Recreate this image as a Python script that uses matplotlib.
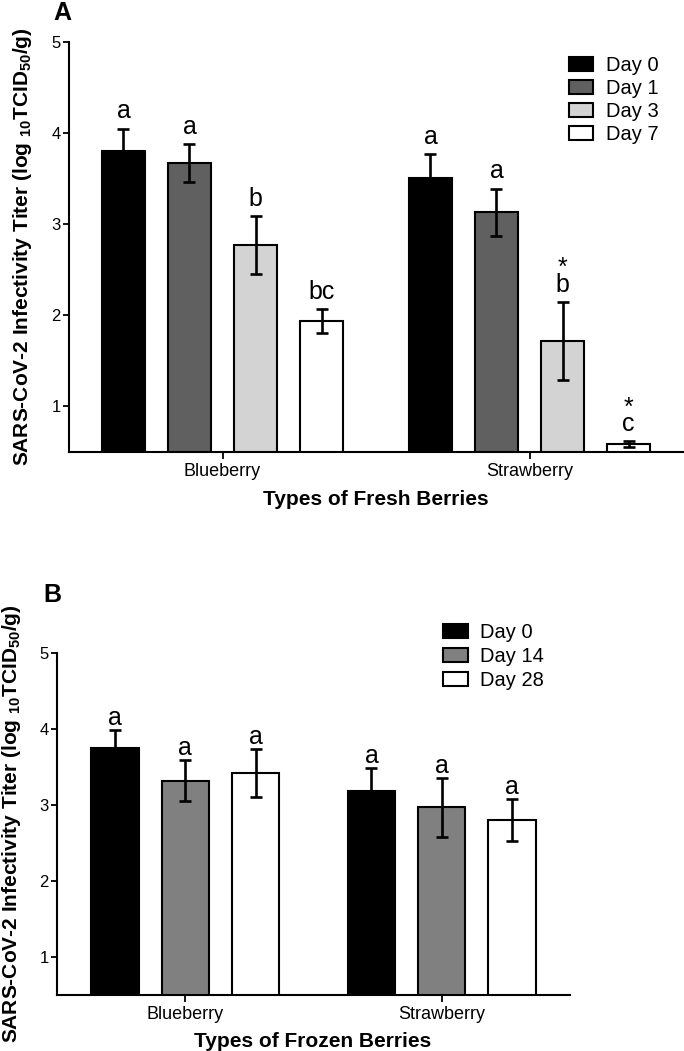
import matplotlib
matplotlib.use("Agg")
import matplotlib.pyplot as plt
import numpy as np
from matplotlib.patches import Patch

plt.rcParams['font.family'] = ['Liberation Sans', 'DejaVu Sans']
plt.rcParams['mathtext.fontset'] = 'custom'
plt.rcParams['mathtext.rm'] = 'Liberation Sans:bold'
plt.rcParams['mathtext.default'] = 'rm'

# ---------------- data ----------------
berries = ["Blueberry", "Strawberry"]

fresh_days = ["Day 0", "Day 1", "Day 3", "Day 7"]
fresh_mean = {"Blueberry": [3.80, 3.67, 2.77, 1.94],
              "Strawberry": [3.51, 3.13, 1.72, 0.59]}
fresh_err = {"Blueberry": [0.25, 0.21, 0.32, 0.13],
             "Strawberry": [0.26, 0.26, 0.43, 0.03]}
fresh_letters = {"Blueberry": ["a", "a", "b", "bc"],
                 "Strawberry": ["a", "a", "b", "c"]}
fresh_stars = {"Blueberry": ["", "", "", ""],
               "Strawberry": ["", "", "*", "*"]}
fresh_colors = ["#000000", "#606060", "#d3d3d3", "#ffffff"]

frozen_days = ["Day 0", "Day 14", "Day 28"]
frozen_mean = {"Blueberry": [3.75, 3.32, 3.42],
               "Strawberry": [3.19, 2.97, 2.80]}
frozen_err = {"Blueberry": [0.24, 0.27, 0.32],
              "Strawberry": [0.30, 0.39, 0.28]}
frozen_letters = {"Blueberry": ["a", "a", "a"],
                  "Strawberry": ["a", "a", "a"]}
frozen_colors = ["#000000", "#808080", "#ffffff"]

yticks = [1, 2, 3, 4, 5]

W, H = 684, 1051
fig = plt.figure(figsize=(W / 100, H / 100), dpi=100)


def fx(px):
    return px / W


def fy(py):
    return 1 - py / H


def panel(ax, days, means, errs, letters, stars, colors, pitch, width,
          letter_off, ann_size):
    x = np.arange(len(berries))
    n = len(days)
    for i, d in enumerate(days):
        xs = x + (i - (n - 1) / 2) * pitch
        vals = [means[b][i] for b in berries]
        es = [errs[b][i] for b in berries]
        ax.bar(xs, vals, width=width, color=colors[i], edgecolor="black",
               linewidth=1.5, label=d, zorder=2)
        ax.errorbar(xs, vals, yerr=es, fmt="none", ecolor="black",
                    elinewidth=1.9, capsize=4.5, capthick=1.9, zorder=3)
        for j, b in enumerate(berries):
            top = vals[j] + es[j]
            star = stars[b][i] if stars is not None else ""
            if star:
                ax.annotate(star + "\n" + letters[b][i], (xs[j], top),
                            xytext=(0, letter_off - 3.8),
                            textcoords="offset points", ha="center",
                            va="bottom", fontsize=ann_size, linespacing=0.6)
            else:
                ax.annotate(letters[b][i], (xs[j], top),
                            xytext=(0, letter_off),
                            textcoords="offset points", ha="center",
                            va="baseline", fontsize=ann_size)
    ax.set_xlim(-0.5, 1.5)
    ax.set_ylim(0.5, 5)
    ax.set_yticks(yticks)
    ax.set_yticklabels([str(t) for t in yticks], fontsize=12)
    ax.set_xticks(x)
    ax.set_xticklabels(berries, fontsize=13)
    for s in ["top", "right"]:
        ax.spines[s].set_visible(False)
    for s in ["left", "bottom"]:
        ax.spines[s].set_linewidth(1.5)
    ax.tick_params(axis="y", length=4.5, width=1.3, pad=1.5)
    ax.tick_params(axis="x", length=5, width=1.3, pad=3)


ylabel = r"SARS-CoV-2 Infectivity Titer (log $_{10}$TCID$_{50}$/g)"

# ---------- Panel A ----------
axA = fig.add_axes([fx(69), fy(452), fx(683) - fx(69), fy(42) - fy(452)])
panel(axA, fresh_days, fresh_mean, fresh_err, fresh_letters, fresh_stars,
      fresh_colors, 0.215, 0.1425, 7.5, 18)
handles = [Patch(facecolor=c, edgecolor="black", linewidth=1.5, label=d)
           for c, d in zip(fresh_colors, fresh_days)]
axA.legend(handles=handles, loc="upper left",
           bbox_to_anchor=(fx(569), fy(56)), bbox_transform=fig.transFigure,
           frameon=False, fontsize=14.5, borderpad=0, borderaxespad=0,
           handlelength=1.2, handleheight=0.75, handletextpad=0.62,
           labelspacing=0.2)
fig.text(fx(376), fy(505), "Types of Fresh Berries", ha="center",
         va="baseline", fontsize=15, fontweight="bold")
fig.text(fx(23), (fy(42) + fy(452)) / 2, ylabel, rotation=90, ha="center",
         va="center", fontsize=15, fontweight="bold")
fig.text(fx(53), fy(20), "A", ha="left", va="baseline", fontsize=18,
         fontweight="bold")

# ---------- Panel B ----------
axB = fig.add_axes([fx(57), fy(995), fx(570) - fx(57), fy(653) - fy(995)])
panel(axB, frozen_days, frozen_mean, frozen_err, frozen_letters, None,
      frozen_colors, 0.274, 0.185, 3.5, 18)
handles = [Patch(facecolor=c, edgecolor="black", linewidth=1.5, label=d)
           for c, d in zip(frozen_colors, frozen_days)]
axB.legend(handles=handles, loc="upper left",
           bbox_to_anchor=(fx(443), fy(623)), bbox_transform=fig.transFigure,
           frameon=False, fontsize=14.5, borderpad=0, borderaxespad=0,
           handlelength=1.24, handleheight=0.75, handletextpad=0.62,
           labelspacing=0.25)
fig.text(fx(313), fy(1047), "Types of Frozen Berries", ha="center",
         va="baseline", fontsize=15, fontweight="bold")
fig.text(fx(12), (fy(653) + fy(995)) / 2, ylabel, rotation=90, ha="center",
         va="center", fontsize=15, fontweight="bold")
fig.text(fx(43), fy(602), "B", ha="left", va="baseline", fontsize=18,
         fontweight="bold")

fig.savefig("out.png", dpi=100)
